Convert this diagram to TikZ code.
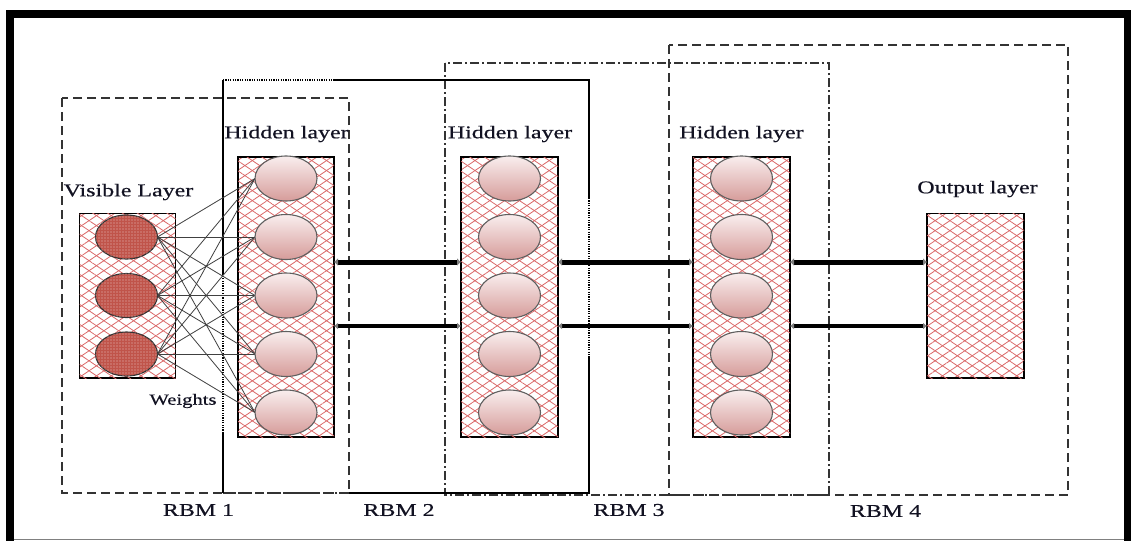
\documentclass[tikz,border=0pt]{standalone}
\usepackage{fontspec}
\setmainfont{Liberation Serif}[FakeStretch=1.33,FakeBold=0.6]
\usetikzlibrary{shapes.geometric,patterns.meta,arrows.meta}

\definecolor{hatch}{RGB}{218,104,104}
\definecolor{visfill}{RGB}{192,84,74}
\definecolor{hidtop}{RGB}{249,238,238}
\definecolor{hidbot}{RGB}{214,156,154}
\definecolor{rim}{RGB}{95,95,95}
\definecolor{ink}{RGB}{18,18,34}

\tikzset{
  lbl/.style={font=\fontsize{18}{20}\selectfont, text=ink, inner sep=0},
  smalllbl/.style={font=\fontsize{15.5}{17}\selectfont, text=ink, inner sep=0},
  layerbox/.style={draw=black, line width=1.4pt, inner sep=0, outer sep=0,
    pattern={Lines[angle=34,distance=8.3pt,line width=0.8pt]}, pattern color=hatch,
    postaction={pattern={Lines[angle=-34,distance=8.3pt,line width=0.8pt]}, pattern color=hatch}},
  colbox/.style={layerbox, minimum width=96pt, minimum height=280pt},
  sidebox/.style={layerbox, minimum width=96pt, minimum height=164.5pt},
  hunit/.style={ellipse, minimum width=62pt, minimum height=45pt, inner sep=0, outer sep=0,
    draw=rim, line width=1.1pt, top color=hidtop, bottom color=hidbot},
  vunit/.style={ellipse, minimum width=62pt, minimum height=44pt, inner sep=0, outer sep=0,
    draw=black!80, line width=1.1pt, fill=visfill,
    postaction={pattern={Dots[distance=3pt,radius=0.55pt]}, pattern color=white!65!visfill}},
  wline/.style={draw=black!75, line width=0.8pt},
  busthick/.style={line width=5pt, {Latex[length=4pt,width=8pt,color=gray]}-{Latex[length=4pt,width=8pt,color=gray]}},
  busthin/.style={line width=4pt, {Latex[length=4pt,width=7pt,color=gray]}-{Latex[length=4pt,width=7pt,color=gray]}},
  rbmdash/.style={line width=1.3pt, draw=black!80, dash pattern=on 9pt off 5pt},
  rbmdashdot/.style={line width=1.2pt, draw=black!80, dash pattern=on 9pt off 3pt on 2pt off 3pt},
  rbmsolid/.style={line width=1.3pt, draw=black},
  rbmdot/.style={line width=1.3pt, draw=black, dash pattern=on 1.2pt off 1.2pt},
}

\begin{document}
\begin{tikzpicture}[x=1pt,y=-1pt]
\useasboundingbox (0,0) rectangle (1131,541);

% page frame
\fill[black] (6,10) rectangle (1131,17.5);
\fill[black] (6,10) rectangle (14,541);
\fill[black] (1124,10) rectangle (1131,541);
\draw[gray, line width=1pt] (14,539) -- (1124,539);

% RBM groupings
\draw[rbmdash] (62,98) rectangle (349,493);
\draw[rbmdashdot] (445,63) rectangle (829,495);
\draw[rbmdash] (669,45) rectangle (1068,495);

% RBM 2 outline, pieced together
\coordinate (r2a) at (223,80);
\coordinate (r2b) at (335,80);
\coordinate (r2c) at (589,80);
\coordinate (r2d) at (589,198);
\coordinate (r2e) at (589,358);
\coordinate (r2f) at (589,493);
\coordinate (r2g) at (349,493);
\coordinate (r2h) at (223,493);
\coordinate (r2i) at (223,433);
\coordinate (r2j) at (223,272);
\draw[rbmdot] (r2a) -- (r2b);
\draw[rbmsolid] (r2b) -- (r2c) -- (r2d);
\draw[rbmdot] (r2d) -- (r2e);
\draw[rbmsolid] (r2e) -- (r2f) -- (r2g);
\draw[rbmdashdot] (r2g) -- (r2h);
\draw[rbmsolid] (r2h) -- (r2i);
\draw[rbmdot] (r2i) -- (r2j);
\draw[rbmsolid] (r2j) -- (r2a);

% layer boxes
\node[sidebox] (vis) at (127.5,295.75) {};
\node[colbox] (h1) at (286,297) {};
\node[colbox, minimum width=97pt] (h2) at (509.5,297) {};
\node[colbox, minimum width=97pt] (h3) at (741.5,297) {};
\node[sidebox, minimum width=97pt] (out) at (975.5,295.75) {};

% visible units
\node[vunit] (v1) at (126.5,237) {};
\node[vunit] (v2) at (126.5,295.5) {};
\node[vunit] (v3) at (126.5,354) {};

% weights between visible layer and first hidden layer
\foreach \i in {1,2,3}{
  \foreach \j/\y in {1/178.5,2/237,3/295.5,4/354,5/412.5}{
    \coordinate (t\i\j) at (255,\y);
    \draw[wline] (v\i.east) -- (t\i\j);
  }
}

% hidden units
\foreach \c/\x in {h1/286,h2/509.5,h3/741.5}{
  \foreach \j/\y in {1/178.5,2/237,3/295.5,4/354,5/412.5}{
    \node[hunit] (\c u\j) at (\x,\y) {};
  }
}

% connections between layers
\coordinate (rowA) at (0,262);
\coordinate (rowB) at (0,326);
\draw[busthick] (h1.east |- rowA) -- (h2.west |- rowA);
\draw[busthin] (h1.east |- rowB) -- (h2.west |- rowB);
\draw[busthick] (h2.east |- rowA) -- (h3.west |- rowA);
\draw[busthin] (h2.east |- rowB) -- (h3.west |- rowB);
\draw[busthick] (h3.east |- rowA) -- (out.west |- rowA);
\draw[busthin] (h3.east |- rowB) -- (out.west |- rowB);

% labels
\node[lbl] (lv) at (128.5,192) {Visible Layer};
\node[lbl] (l1) at (286.5,134) {Hidden layer};
\node[lbl] (l2) at (510,134) {Hidden layer};
\node[lbl] (l3) at (741.5,134) {Hidden layer};
\node[lbl] (lo) at (977.5,189) {Output layer};
\node[smalllbl] (lw) at (183,401) {Weights};
\node[lbl] (rb1) at (198.5,510) {RBM 1};
\node[lbl] (rb2) at (399,510) {RBM 2};
\node[lbl] (rb3) at (629,510) {RBM 3};
\node[lbl] (rb4) at (885.5,511) {RBM 4};
\end{tikzpicture}
\end{document}
